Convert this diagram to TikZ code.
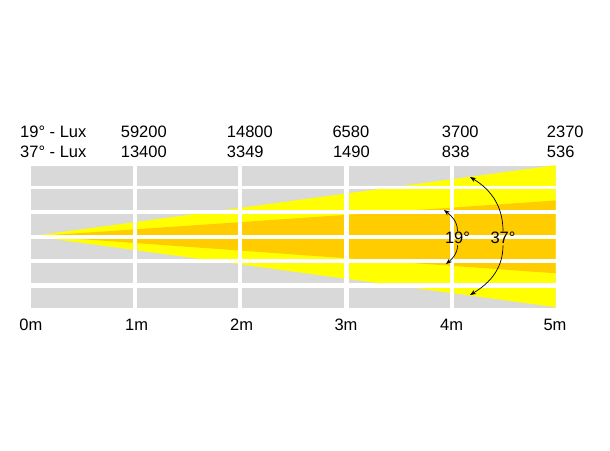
\documentclass[tikz,border=0pt]{standalone}
\usepackage{fontspec}
\setmainfont{Liberation Sans}
\usetikzlibrary{arrows.meta}
\definecolor{gridgray}{RGB}{217,217,217}
\definecolor{beamyellow}{RGB}{255,255,0}
\definecolor{beamorange}{RGB}{255,204,0}
\tikzset{
  lbl/.style={anchor=base west, inner sep=0pt, font=\fontsize{16.5}{19}\selectfont},
  anglbl/.style={inner sep=1pt, font=\fontsize{16.5}{19}\selectfont},
  gap/.style={fill=white, draw=none},
  angarrow/.style={draw=black, line width=0.7pt, -{Stealth[length=6pt,width=4.5pt]}}
}
\begin{document}
\begin{tikzpicture}[x=1pt,y=-1pt]
\useasboundingbox (0,0) rectangle (610,450);
\fill[white] (0,0) rectangle (610,450);
% grid background
\begin{scope}
\clip (31,165.7) rectangle (555.7,307.7);
\fill[gridgray] (31,165.7) rectangle (555.7,307.7);
\fill[beamyellow] (31.5,236.1) -- (555.7,165.2) -- (555.7,307.2) -- cycle;
\fill[beamorange] (38,236) -- (555.7,200.5) -- (555.7,273.3) -- cycle;
\end{scope}
% white gaps
\foreach \ya/\yb in {186/189.3, 210/214.3, 234.7/238.9, 259/262.7, 283.3/287.7}
  \fill[gap] (25,\ya) rectangle (560,\yb);
\foreach \xa/\xb in {132.7/136.7, 238.3/242.3, 344.3/348.7, 450/454}
  \fill[gap] (\xa,160) rectangle (\xb,312);
% header texts
\node[lbl] (h19) at (20,137.3) {19° - Lux};
\node[lbl] (h37) at (20,157.7) {37° - Lux};
\node[lbl] (a1) at (120.7,137.3) {59200};
\node[lbl] (a2) at (226.7,137.3) {14800};
\node[lbl] (a3) at (332.3,137.3) {6580};
\node[lbl] (a4) at (441.7,137.3) {3700};
\node[lbl] (a5) at (546.7,137.3) {2370};
\node[lbl] (b1) at (120.7,157.7) {13400};
\node[lbl] (b2) at (226.7,157.7) {3349};
\node[lbl] (b3) at (332.8,157.7) {1490};
\node[lbl] (b4) at (441.7,157.7) {838};
\node[lbl] (b5) at (546.7,157.7) {536};
% distances
\node[lbl] (m0) at (19.3,330) {0m};
\node[lbl] (m1) at (125,330) {1m};
\node[lbl] (m2) at (230,330) {2m};
\node[lbl] (m3) at (334.3,330) {3m};
\node[lbl] (m4) at (440,330) {4m};
\node[lbl] (m5) at (543.3,330) {5m};
% angle labels and arcs
\node[anglbl] (n19) at (457.5,238.3) {19°};
\node[anglbl] (n37) at (503,238.3) {37°};
\coordinate (t19a) at (444,210);
\coordinate (t19b) at (446,264);
\coordinate (t37a) at (470,177);
\coordinate (t37b) at (470,295);
\draw[angarrow] (n19.north) to[out=90,in=-38] (t19a);
\draw[angarrow] (n19.south) to[out=-90,in=40] (t19b);
\draw[angarrow] (n37.north) to[out=90,in=-31] (t37a);
\draw[angarrow] (n37.south) to[out=-90,in=31] (t37b);
\end{tikzpicture}
\end{document}
